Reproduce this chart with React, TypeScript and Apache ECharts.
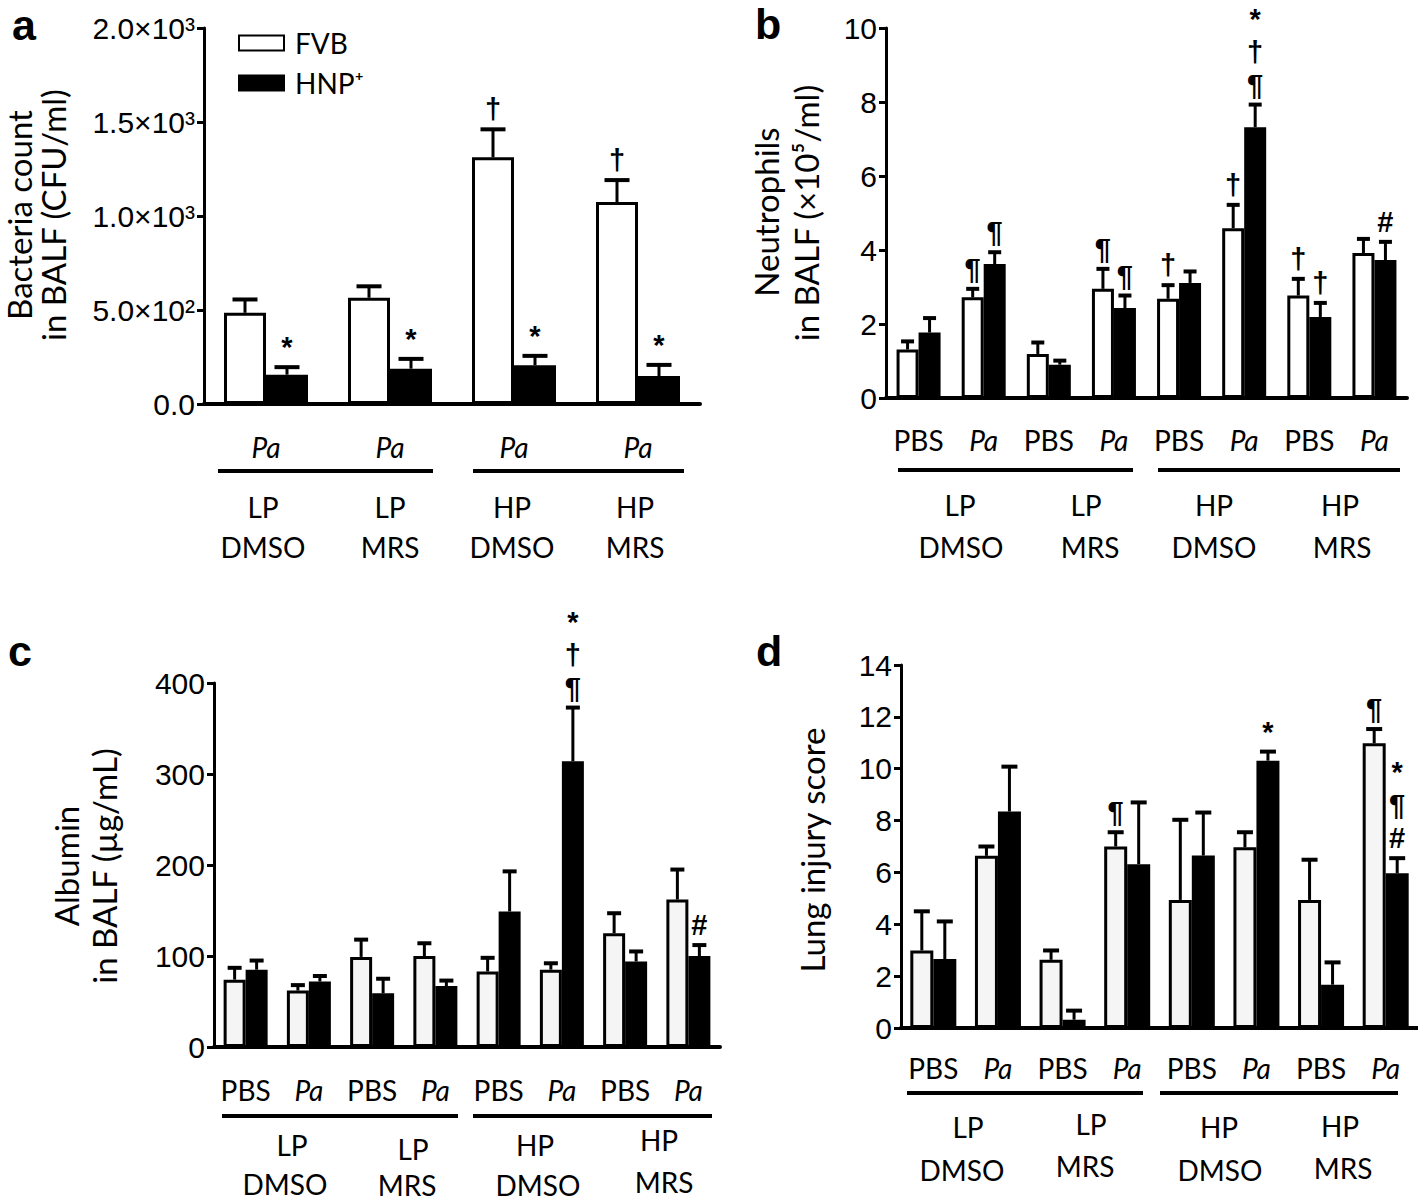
import React, { useEffect, useRef } from 'react';
import * as echarts from 'echarts';

// ---------- Panel a: bacteria count ----------
const aCats = ['LP DMSO Pa', 'LP MRS Pa', 'HP DMSO Pa', 'HP MRS Pa'];
const aTickLabels = ['Pa', 'Pa', 'Pa', 'Pa'];
const aYTickLabels = ['0.0', '5.0×10²', '1.0×10³', '1.5×10³', '2.0×10³'];
const aFVB = [485, 565, 1312, 1074];
const aFVBErr = [71, 61, 149, 117];
const aHNP = [156, 188, 206, 149];
const aHNPErr = [40, 52, 50, 59];
const aFVBMarks = ['', '', '†', '†'];
const aHNPMarks = ['*', '*', '*', '*'];

// ---------- Panel b: neutrophils ----------
const bCats = ['LP DMSO PBS', 'LP DMSO Pa', 'LP MRS PBS', 'LP MRS Pa', 'HP DMSO PBS', 'HP DMSO Pa', 'HP MRS PBS', 'HP MRS Pa'];
const bTickLabels = ['PBS', 'Pa', 'PBS', 'Pa', 'PBS', 'Pa', 'PBS', 'Pa'];
const bFVB = [1.31, 2.72, 1.19, 2.95, 2.68, 4.59, 2.77, 3.92];
const bFVBErr = [0.22, 0.23, 0.31, 0.54, 0.37, 0.63, 0.45, 0.38];
const bHNP = [1.77, 3.62, 0.9, 2.43, 3.11, 7.32, 2.19, 3.73];
const bHNPErr = [0.39, 0.32, 0.11, 0.34, 0.31, 0.61, 0.38, 0.49];
const bFVBMarks = ['', '¶', '', '¶', '†', '†', '†', ''];
const bHNPMarks = ['', '¶', '', '¶', '', '*\n†\n¶', '†', '#'];

// ---------- Panel c: albumin ----------
const cCats = bCats;
const cTickLabels = ['PBS', 'Pa', 'PBS', 'Pa', 'PBS', 'Pa', 'PBS', 'Pa'];
const cFVB = [74, 62, 99, 100, 83, 85, 125, 162];
const cFVBErr = [13, 6, 19, 14, 15, 7, 22, 33];
const cHNP = [85, 72, 59, 67, 149, 314, 94, 100];
const cHNPErr = [10, 6, 16, 6, 44, 59, 11, 12];
const cFVBMarks = ['', '', '', '', '', '', '', ''];
const cHNPMarks = ['', '', '', '', '', '*\n†\n¶', '', '#'];

// ---------- Panel d: lung injury score ----------
const dCats = bCats;
const dTickLabels = ['PBS', 'Pa', 'PBS', 'Pa', 'PBS', 'Pa', 'PBS', 'Pa'];
const dFVB = [2.99, 6.64, 2.63, 7.0, 4.94, 6.97, 4.94, 10.98];
const dFVBErr = [1.51, 0.36, 0.36, 0.55, 3.09, 0.58, 1.55, 0.55];
const dHNP = [2.66, 8.35, 0.32, 6.32, 6.65, 10.31, 1.67, 5.97];
const dHNPErr = [1.45, 1.73, 0.35, 2.38, 1.66, 0.35, 0.86, 0.58];
const dFVBMarks = ['', '', '', '¶', '', '', '', '¶'];
const dHNPMarks = ['', '', '', '', '', '*', '', '*\n¶\n#'];

// group labels under the axes
const groupRow1 = ['LP', 'LP', 'HP', 'HP'];
const groupRow2 = ['DMSO', 'MRS', 'DMSO', 'MRS'];

const SANS = '"Liberation Sans", Arial, sans-serif';
const LABEL = 'Lato, "Open Sans", sans-serif';

function xAxisFor(grid: number, cats: string[], ticks: string[], margin: number) {
  return {
    type: 'category',
    gridIndex: grid,
    data: cats,
    axisLine: { show: true, lineStyle: { color: '#000', width: 4 } },
    axisTick: { show: false },
    splitLine: { show: false },
    axisLabel: {
      interval: 0,
      margin,
      formatter: (_v: string, i: number) => (ticks[i] === 'Pa' ? '{i|Pa}' : '{n|' + ticks[i] + '}'),
      rich: {
        n: { fontSize: 28, fontFamily: LABEL, color: '#000', lineHeight: 30 },
        i: { fontSize: 28, fontFamily: LABEL, fontStyle: 'italic', color: '#000', lineHeight: 30 },
      },
    },
  };
}

function yAxisFor(grid: number, max: number, interval: number, formatter?: (v: number) => string) {
  return {
    type: 'value',
    gridIndex: grid,
    min: 0,
    max,
    interval,
    axisLine: { show: true, lineStyle: { color: '#000', width: 3 } },
    axisTick: { show: true, length: 7, lineStyle: { color: '#000', width: 3 } },
    splitLine: { show: false },
    axisLabel: {
      margin: 9,
      fontSize: 30,
      fontFamily: SANS,
      color: '#000',
      formatter: formatter || ((v: number) => String(v)),
    },
  };
}

function barSeries(grid: number, name: string, values: number[], fill: string, bw: number) {
  return {
    type: 'bar',
    name,
    xAxisIndex: grid,
    yAxisIndex: grid,
    data: values,
    barWidth: bw,
    barGap: '0%',
    silent: true,
    itemStyle: { color: fill, borderColor: '#000', borderWidth: 3 },
  };
}

function errSeries(grid: number, means: number[], errs: number[], marks: string[], side: number, bw: number, capW: number) {
  return {
    type: 'custom',
    xAxisIndex: grid,
    yAxisIndex: grid,
    silent: true,
    clip: false,
    z: 5,
    data: means.map((m, i) => [i, m, m + errs[i]]),
    renderItem: (params: any, api: any) => {
      const i = api.value(0);
      const p0 = api.coord([i, api.value(1)]);
      const p1 = api.coord([i, api.value(2)]);
      const x = p0[0] + (side * bw) / 2;
      const children: any[] = [
        { type: 'line', shape: { x1: x, y1: p0[1], x2: x, y2: p1[1] }, style: { stroke: '#000', lineWidth: 3 } },
        { type: 'line', shape: { x1: x - capW / 2, y1: p1[1], x2: x + capW / 2, y2: p1[1] }, style: { stroke: '#000', lineWidth: 4 } },
      ];
      const mk = marks[params.dataIndex];
      if (mk) {
        const lines = mk.split('\n').reverse();
        lines.forEach((t: string, k: number) => {
          children.push({
            type: 'text',
            style: {
              text: t,
              x,
              y: p1[1] - 5 - k * 33,
              align: 'center',
              verticalAlign: 'bottom',
              fontSize: 29,
              fontWeight: 'bold',
              fontFamily: SANS,
              lineHeight: 30,
              fill: '#000',
            },
          });
        });
      }
      return { type: 'group', children };
    },
  };
}

function txt(t: string, x: number, y: number, size: number, opts: any = {}) {
  return {
    type: 'text',
    x,
    y,
    rotation: opts.rotation || 0,
    style: {
      text: t,
      fontSize: size,
      fontFamily: opts.family || LABEL,
      fontWeight: opts.weight || 'normal',
      fontStyle: opts.style || 'normal',
      lineHeight: opts.lineHeight || Math.round(size * 1.05),
      fill: '#000',
      align: opts.align || 'center',
      verticalAlign: 'middle',
    },
  };
}

function hline(x1: number, x2: number, y: number) {
  return { type: 'line', shape: { x1, y1: y, x2, y2: y }, style: { stroke: '#000', lineWidth: 4 } };
}

export default function App() {
  const ref = useRef<HTMLDivElement>(null);

  useEffect(() => {
    if (!ref.current) return;
    const chart = echarts.init(ref.current, undefined, { renderer: 'svg' });
    const R = Math.PI / 2;

    const groupText: any[] = [];
    const addGroups = (xs1: number[], ys1: number[], xs2: number[], ys2: number[]) => {
      groupRow1.forEach((t, i) => groupText.push(txt(t, xs1[i], ys1[i], 28, { lineHeight: 30 })));
      groupRow2.forEach((t, i) => groupText.push(txt(t, xs2[i], ys2[i], 28, { lineHeight: 30 })));
    };
    addGroups([263, 390, 512, 635], [507, 507, 507, 507], [263, 390, 512, 635], [547, 547, 547, 547]);
    addGroups([960, 1086, 1214, 1340], [505, 505, 505, 505], [961, 1090, 1214, 1342], [547, 547, 547, 547]);
    addGroups([292, 413, 535, 659], [1145, 1149, 1145, 1140], [285, 407, 538, 664], [1184, 1185, 1185, 1182]);
    addGroups([968, 1091, 1219, 1340], [1127, 1124, 1127, 1126], [962, 1085, 1220, 1343], [1170, 1166, 1170, 1168]);

    const option: any = {
      animation: false,
      backgroundColor: '#fff',
      grid: [
        { left: 204, top: 28, width: 496, height: 376 },
        { left: 886, top: 28, width: 521, height: 370 },
        { left: 214, top: 683, width: 506, height: 364 },
        { left: 901, top: 665, width: 517, height: 363 },
      ],
      xAxis: [
        xAxisFor(0, aCats, aTickLabels, 28),
        xAxisFor(1, bCats, bTickLabels, 27),
        xAxisFor(2, cCats, cTickLabels, 28),
        xAxisFor(3, dCats, dTickLabels, 25),
      ],
      yAxis: [
        yAxisFor(0, 2000, 500, (v: number) => aYTickLabels[Math.round(v / 500)]),
        yAxisFor(1, 10, 2),
        yAxisFor(2, 400, 100),
        yAxisFor(3, 14, 2),
      ],
      legend: {
        data: ['FVB', 'HNP⁺'],
        orient: 'vertical',
        left: 233,
        top: 24,
        itemWidth: 45,
        itemHeight: 15,
        itemGap: 12,
        icon: 'rect',
        selectedMode: false,
        textStyle: { fontSize: 28, fontFamily: LABEL, color: '#000', padding: [0, 0, 0, 6], lineHeight: 28 },
      },
      series: [
        barSeries(0, 'FVB', aFVB, '#ffffff', 42),
        barSeries(0, 'HNP⁺', aHNP, '#000000', 42),
        errSeries(0, aFVB, aFVBErr, aFVBMarks, -1, 42, 25),
        errSeries(0, aHNP, aHNPErr, aHNPMarks, 1, 42, 25),

        barSeries(1, 'FVB b', bFVB, '#ffffff', 22),
        barSeries(1, 'HNP b', bHNP, '#000000', 22),
        errSeries(1, bFVB, bFVBErr, bFVBMarks, -1, 22, 13),
        errSeries(1, bHNP, bHNPErr, bHNPMarks, 1, 22, 13),

        barSeries(2, 'FVB c', cFVB, '#f5f5f5', 22),
        barSeries(2, 'HNP c', cHNP, '#000000', 22),
        errSeries(2, cFVB, cFVBErr, cFVBMarks, -1, 22, 14),
        errSeries(2, cHNP, cHNPErr, cHNPMarks, 1, 22, 14),

        barSeries(3, 'FVB d', dFVB, '#f5f5f5', 23),
        barSeries(3, 'HNP d', dHNP, '#000000', 23),
        errSeries(3, dFVB, dFVBErr, dFVBMarks, -1, 23, 16),
        errSeries(3, dHNP, dHNPErr, dHNPMarks, 1, 23, 16),
      ],
      graphic: [
        txt('a', 12, 25, 43, { family: SANS, weight: 'bold', align: 'left', lineHeight: 40 }),
        txt('b', 755, 24, 43, { family: SANS, weight: 'bold', align: 'left', lineHeight: 40 }),
        txt('c', 8, 651, 43, { family: SANS, weight: 'bold', align: 'left', lineHeight: 40 }),
        txt('d', 756, 651, 43, { family: SANS, weight: 'bold', align: 'left', lineHeight: 40 }),

        txt('Bacteria count', 19, 215, 33, { rotation: R, lineHeight: 30 }),
        txt('in BALF (CFU/ml)', 53, 215, 33, { rotation: R, lineHeight: 30 }),
        txt('Neutrophils', 766, 212, 33, { rotation: R, lineHeight: 30 }),
        txt('in BALF (×10⁵/ml)', 806, 213, 33, { rotation: R, lineHeight: 30 }),
        txt('Albumin', 66, 866, 33, { rotation: R, lineHeight: 30 }),
        txt('in BALF (µg/mL)', 104, 866, 33, { rotation: R, lineHeight: 30 }),
        txt('Lung injury score', 812, 850, 33, { rotation: R, lineHeight: 30 }),

        hline(218, 433, 471),
        hline(473, 684, 471),
        hline(898, 1133, 470),
        hline(1158, 1400, 470),
        hline(222, 458, 1116),
        hline(473, 712, 1116),
        hline(907, 1143, 1093),
        hline(1160, 1398, 1093),
        ...groupText,
      ],
    };

    chart.setOption(option);
    return () => chart.dispose();
  }, []);

  return (
    <div
      ref={ref}
      style={{ position: 'absolute', left: 0, top: 0, width: 1418, height: 1203, background: '#fff' }}
    />
  );
}
